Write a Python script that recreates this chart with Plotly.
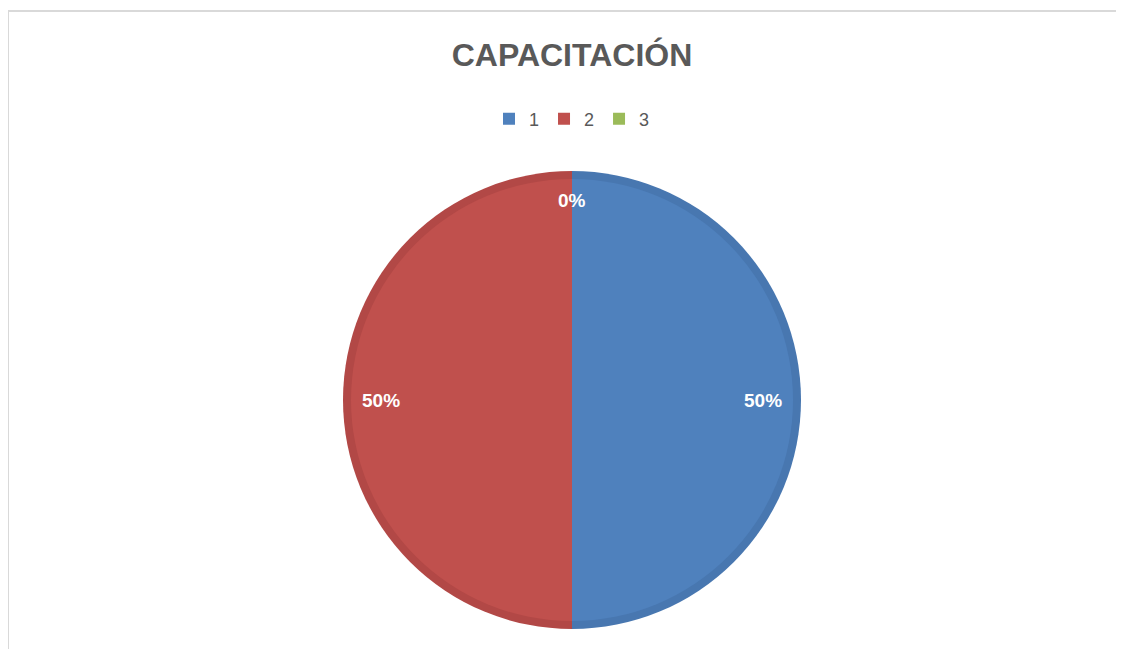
import math
import plotly.graph_objects as go

labels = ["1", "2", "3"]
values = [50, 50, 0]
colors = ["#4F81BD", "#C0504D", "#9BBB59"]
edge_colors = ["#4877B0", "#B24846", "#8FAD52"]

W, H = 1124, 649
# the page puts the plot 8px in from the top-left corner
off = 8
cx, cy, r = 572 - off, 400 - off, 229
bevel = 8


def domain(rad):
    return dict(x=[(cx - rad) / W, (cx + rad) / W], y=[1 - (cy + rad) / H, 1 - (cy - rad) / H])


fig = go.Figure()
# darker outer pie gives the Excel-like bevelled rim
fig.add_trace(go.Pie(
    labels=labels, values=values, sort=False, direction="clockwise", rotation=0,
    marker=dict(colors=edge_colors, line=dict(width=0)),
    textinfo="none", hoverinfo="skip", showlegend=False, domain=domain(r),
))
fig.add_trace(go.Pie(
    labels=labels, values=values, sort=False, direction="clockwise", rotation=0,
    marker=dict(colors=colors, line=dict(width=0)),
    textinfo="none", hoverinfo="label+percent", domain=domain(r - bevel),
))

# percent labels near the outer edge, like Excel's "best fit"
total = sum(values)
annotations = []
cum = 0
for v in values:
    mid = (cum + v / 2) / total
    cum += v
    ang = math.pi / 2 - 2 * math.pi * mid
    dist = 0.835 * r if v else 0.87 * r
    px_ = cx + dist * math.cos(ang)
    py_ = cy - dist * math.sin(ang)
    annotations.append(dict(
        x=px_ / W, y=1 - py_ / H, xref="paper", yref="paper", showarrow=False,
        xanchor="center", yanchor="middle",
        text=f"{round(100 * v / total)}%",
        font=dict(family="Liberation Sans", size=19, color="white", weight="bold"),
    ))

fig.update_layout(
    width=W, height=H,
    margin=dict(l=0, r=0, t=0, b=0),
    paper_bgcolor="white", plot_bgcolor="white",
    title=dict(text="<b>CAPACITACIÓN</b>", x=(572 - off) / W, xanchor="center", y=1 - (55 - off) / H,
               yanchor="middle", font=dict(family="Liberation Sans", size=32, color="#595959")),
    legend=dict(orientation="h", x=(572 - off) / W, xanchor="center", y=1 - (119 - off) / H, yanchor="middle",
                font=dict(family="Liberation Sans", size=18, color="#595959"),
                itemwidth=30, tracegroupgap=0),
    annotations=annotations,
    shapes=[dict(type="rect", xref="paper", yref="paper", x0=0, x1=1.05, y0=-0.05, y1=1 - 3 / H,
                 line=dict(color="#D9D9D9", width=2))],
)

fig.write_html("out.html")
